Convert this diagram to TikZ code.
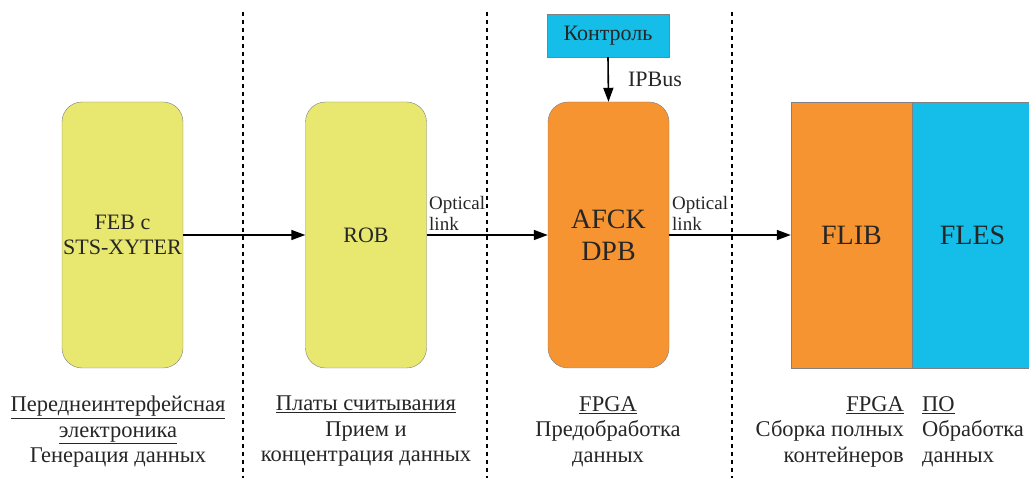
\documentclass[tikz,border=0pt]{standalone}
\usepackage{fontspec}
\setmainfont{Liberation Serif}
\newfontfamily\capfont{Liberation Serif}
\usepackage{xcolor}
\usepackage{tikz}
\usetikzlibrary{arrows.meta,positioning}

\definecolor{febyellow}{RGB}{232,232,112}
\definecolor{fpgaorange}{RGB}{247,148,50}
\definecolor{flescyan}{RGB}{20,190,233}

\begin{document}
\begin{tikzpicture}[x=1pt,y=-1pt,
  every node/.style={text=black!85},
  board/.style={draw=gray, fill=#1, rounded corners=20pt, minimum width=121pt,
    minimum height=266pt, inner sep=0pt, align=center},
  block/.style={draw=gray, fill=#1, minimum width=121pt, minimum height=266pt,
    inner sep=0pt, align=center},
  link/.style={line width=1.6pt, -{Triangle[length=14pt,width=10pt]}},
  sep/.style={line width=1.8pt, dash pattern=on 4pt off 4pt},
  caption/.style={inner sep=0pt, font=\capfont\fontsize{22.5}{25.5}\selectfont},
  small/.style={inner sep=0pt, align=left, font=\capfont\fontsize{19}{21}\selectfont},
  mid/.style={font=\capfont\fontsize{22}{25}\selectfont},
  big/.style={font=\capfont\fontsize{28}{32}\selectfont}]
\useasboundingbox (0,0) rectangle (1029,478);

% Separators
\foreach \x in {243,487,732}
  \draw[sep] (\x,12) -- (\x,478);

% Boards
\node[board=febyellow, mid] (feb) at (122.5,235) {FEB с\\STS-XYTER};
\node[board=febyellow, mid] (rob) at (366,235) {ROB};
\node[board=fpgaorange, big] (afck) at (608.5,235) {AFCK\\DPB};
\node[block=fpgaorange, big] (flib) at (851.5,235) {FLIB};
\node[block=flescyan, big] (fles) at (972.5,235) {FLES};

% Control
\node[draw=gray, fill=flescyan, minimum width=122pt, minimum height=43pt,
  inner sep=0pt, mid] (ctrl) at (608,35.5) {Контроль};

% Links
\draw[link] (feb.east) -- (rob.west);
\draw[link] (rob.east) -- (afck.west);
\draw[link] (afck.east) -- (flib.west);
\draw[link] (ctrl.south) -- (afck.north)
  node[midway, right=19pt, inner sep=0pt, mid] {IPBus};

\node[small, anchor=south west] (opt1) at (429,231) {Optical\\link};
\node[small, anchor=south west] (opt2) at (672,231) {Optical\\link};

% Captions
\node[caption, anchor=north, align=center] (capfeb) at (118,396)
  {\underline{Переднеинтерфейсная}\\\underline{электроника}\\Генерация данных};
\node[caption, anchor=north, align=center] (caprob) at (366,396)
  {\underline{Платы считывания}\\Прием и\\концентрация данных};
\node[caption, anchor=north, align=center] (capafck) at (608,396)
  {\underline{FPGA}\\Предобработка\\данных};
\node[caption, anchor=north east, align=right] (capflib) at (904,396)
  {\underline{FPGA}\\Сборка полных\\контейнеров};
\node[caption, anchor=north west, align=left] (capfles) at (922,396)
  {\underline{ПО}\\Обработка\\данных};
\end{tikzpicture}
\end{document}
